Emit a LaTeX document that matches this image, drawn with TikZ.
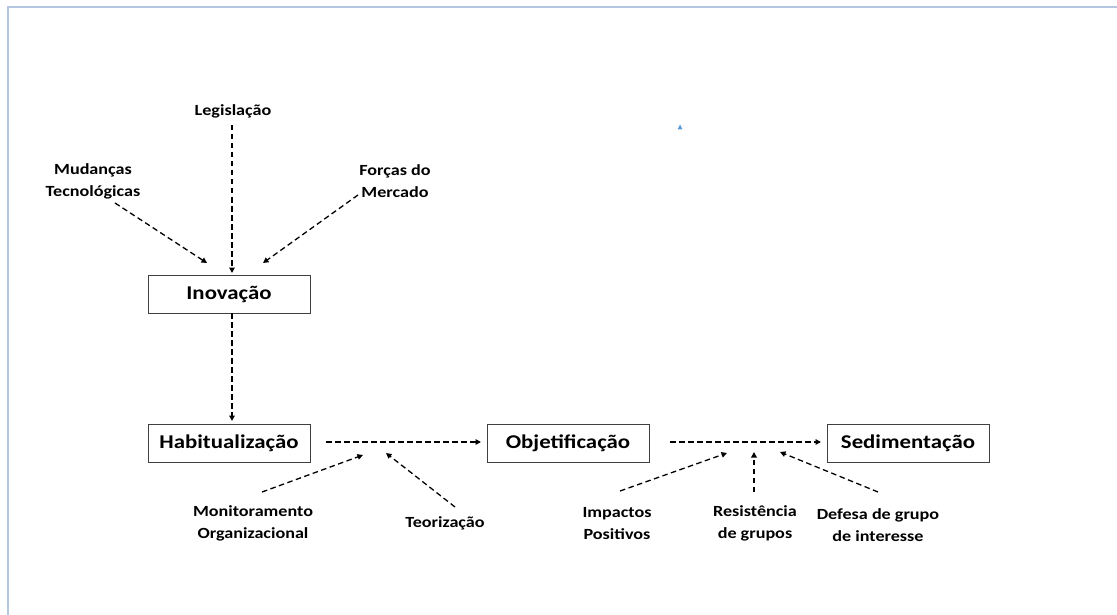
\documentclass[tikz,border=0pt]{standalone}
\usepackage{fontspec}
\setmainfont[FakeStretch=1.17]{Carlito}
\usetikzlibrary{arrows.meta}
\definecolor{framec}{HTML}{B4C6E0}
\definecolor{markc}{HTML}{5B9BD5}
\tikzset{
  box/.style={draw=black!75, line width=1pt, minimum width=162pt, minimum height=38pt, inner sep=0pt, font=\fontsize{19.5}{23}\selectfont\bfseries},
  lbl/.style={align=center, inner sep=0pt, font=\fontsize{15.5}{22}\selectfont\bfseries, text=black},
  dashar/.style={line width=1.3pt, dash pattern=on 5.5pt off 3.5pt, -{Triangle[length=5.5pt,width=5.5pt]}}
}
\begin{document}
\begin{tikzpicture}[x=1pt,y=-1pt]
\useasboundingbox (0,0) rectangle (1117,615);
\draw[framec, line width=1.5pt] (8,615) -- (8,7) -- (1117,7);
% blue marker
\fill[markc] (677.5,129.5) -- (682.5,129.5) -- (680,124.5) -- cycle;
% boxes
\node[box] (inov) at (229,294) {Inovação};
\node[box] (habit) at (229,443.5) {Habitualização};
\node[box] (obj) at (568,443.5) {Objetificação};
\node[box] (sed) at (908,443.5) {Sedimentação};
% labels
\node[lbl] (leg) at (233,111) {Legislação};
\node[lbl] (mud) at (93,181) {Mudanças\\Tecnológicas};
\node[lbl] (forc) at (395,181) {Forças do\\Mercado};
\node[lbl] (mon) at (253,523.5) {Monitoramento\\Organizacional};
\node[lbl] (teo) at (445,523) {Teorização};
\node[lbl] (imp) at (617,523.5) {Impactos\\Positivos};
\node[lbl] (res) at (755,523.5) {Resistência\\de grupos};
\node[lbl] (def) at (878,525.5) {Defesa de grupo\\de interesse};
% coordinates
\coordinate (legS) at (232,125);
\coordinate (legE) at (232,273);
\coordinate (mudS) at (115,203);
\coordinate (mudE) at (207,263);
\coordinate (forS) at (358,195);
\coordinate (forE) at (263,263);
\coordinate (inovS) at (232,313);
\coordinate (habN) at (232,421);
\coordinate (ho1) at (326,442);
\coordinate (ho2) at (481,442);
\coordinate (os1) at (670,442);
\coordinate (os2) at (821,442);
\coordinate (monS) at (262,492);
\coordinate (monE) at (363,455);
\coordinate (teoS) at (455,507);
\coordinate (teoE) at (386,453);
\coordinate (impS) at (620,491);
\coordinate (impE) at (727,453);
\coordinate (resS) at (754,492);
\coordinate (resE) at (754,452);
\coordinate (defS) at (878,492);
\coordinate (defE) at (780,452);
% arrows
\draw[dashar] (legS) -- (legE);
\draw[dashar] (mudS) -- (mudE);
\draw[dashar] (forS) -- (forE);
\draw[dashar] (inovS) -- (habN);
\draw[dashar] (ho1) -- (ho2);
\draw[dashar] (os1) -- (os2);
\draw[dashar] (monS) -- (monE);
\draw[dashar] (teoS) -- (teoE);
\draw[dashar] (impS) -- (impE);
\draw[dashar] (resS) -- (resE);
\draw[dashar] (defS) -- (defE);
\end{tikzpicture}
\end{document}
